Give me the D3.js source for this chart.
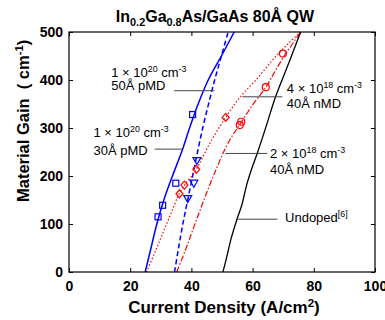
<!DOCTYPE html>
<html>
<head>
<meta charset="utf-8">
<script src="https://cdn.jsdelivr.net/npm/d3@7"></script>
<style>
  body { margin: 0; background: #fff; }
  text { font-family: "Liberation Sans", Arial, Helvetica, sans-serif; }
</style>
</head>
<body>
<svg id="chart" width="385" height="320"></svg>
<script>
// Data (current density J in A/cm2, gain G in cm-1).
const xTicks = [0, 20, 40, 60, 80, 100];
const yTicks = [0, 100, 200, 300, 400, 500];

// 1e20 30A pMD (solid blue)
const pmd30J = [24.9, 26.8, 28.7, 31.0, 33.8, 36.8, 39.4, 42.2, 45.5, 49.8, 54.0];
const pmd30G = [0, 50, 100, 150, 200, 250, 300, 350, 400, 450, 500];
// 1e20 50A pMD (dashed blue)
const pmd50J = [34.5, 35.8, 37.2, 38.8, 40.4, 42.0, 43.7, 45.6, 47.6, 49.8, 52.0];
const pmd50G = [0, 50, 100, 150, 200, 250, 300, 350, 400, 450, 500];
// 4e18 40A nMD (dotted red)
const nmd4J = [25.3, 28.0, 30.6, 33.2, 36.1, 38.0, 41.6, 46.0, 51.2, 56.0, 61.5, 67.0, 71.5, 75.7];
const nmd4G = [0, 40, 80, 120, 164, 183, 214, 268, 322, 365, 403, 445, 475, 500];
// 2e18 40A nMD (dash-dot red)
const nmd2J = [35.2, 38.0, 40.8, 43.5, 46.2, 48.5, 50.6, 53.0, 55.8, 60.0, 64.3, 67.5, 70.5, 73.0, 75.7];
const nmd2G = [0, 45, 94, 140, 185, 220, 251, 280, 307, 348, 385, 420, 452, 475, 500];
// undoped (black)
const undJ = [50.3, 51.5, 53.0, 55.0, 56.5, 58.0, 59.7, 61.5, 64.5, 67.5, 71.5, 75.7];
const undG = [0, 30, 70, 112, 140, 180, 215, 247, 305, 365, 430, 500];

// measured points
const squareJ = [29.1, 30.6, 34.9, 40.4];
const squareG = [115, 139, 185, 328];
const triJ = [38.8, 40.8, 41.8];
const triG = [152, 184, 231];
const diamondJ = [36.1, 37.7, 41.6, 51.2];
const diamondG = [163, 181, 214, 322];
const circleJ = [55.8, 56.3, 64.3, 69.9];
const circleG = [306, 313, 385, 455];

const svg = d3.select('#chart');
const x = d3.scaleLinear().domain([0, 100]).range([69, 375]);
const y = d3.scaleLinear().domain([0, 500]).range([272, 32]);

const zip = (a, b) => a.map((v, i) => [v, b[i]]);
const line = d3.line().x(d => x(d[0])).y(d => y(d[1])).curve(d3.curveCatmullRom);

svg.append('clipPath').attr('id', 'clip')
  .append('rect').attr('x', 69).attr('y', 32).attr('width', 306).attr('height', 240);

const plot = svg.append('g').attr('clip-path', 'url(#clip)');

const curves = [
  { pts: zip(pmd30J, pmd30G), color: '#0000ff', w: 1.5, dash: null },
  { pts: zip(pmd50J, pmd50G), color: '#0000ff', w: 1.5, dash: '5,3' },
  { pts: zip(nmd4J, nmd4G), color: '#ff0000', w: 1.2, dash: '1.5,2' },
  { pts: zip(nmd2J, nmd2G), color: '#ff0000', w: 1.2, dash: '6,2,1.5,2' },
  { pts: zip(undJ, undG), color: '#000', w: 1.3, dash: null },
];
plot.selectAll('path.curve').data(curves).join('path')
  .attr('class', 'curve')
  .attr('d', d => line(d.pts))
  .attr('fill', 'none')
  .attr('stroke', d => d.color)
  .attr('stroke-width', d => d.w)
  .attr('stroke-dasharray', d => d.dash);

// markers
plot.selectAll('rect.sq').data(zip(squareJ, squareG)).join('rect')
  .attr('x', d => x(d[0]) - 3).attr('y', d => y(d[1]) - 3)
  .attr('width', 6).attr('height', 6)
  .attr('fill', 'none').attr('stroke', '#0000ff').attr('stroke-width', 1.2);

plot.selectAll('path.tri').data(zip(triJ, triG)).join('path')
  .attr('d', d => `M${x(d[0]) - 4},${y(d[1]) - 3.5}L${x(d[0]) + 4},${y(d[1]) - 3.5}L${x(d[0])},${y(d[1]) + 3.5}Z`)
  .attr('fill', 'none').attr('stroke', '#0000ff').attr('stroke-width', 1.2);

plot.selectAll('path.dia').data(zip(diamondJ, diamondG)).join('path')
  .attr('d', d => `M${x(d[0])},${y(d[1]) - 4}L${x(d[0]) + 3.5},${y(d[1])}L${x(d[0])},${y(d[1]) + 4}L${x(d[0]) - 3.5},${y(d[1])}Z`)
  .attr('fill', 'none').attr('stroke', '#ff0000').attr('stroke-width', 1.2);

plot.selectAll('circle.c').data(zip(circleJ, circleG)).join('circle')
  .attr('cx', d => x(d[0])).attr('cy', d => y(d[1])).attr('r', 3.5)
  .attr('fill', 'none').attr('stroke', '#ff0000').attr('stroke-width', 1.2);

// frame and inward ticks
svg.append('rect').attr('x', 69).attr('y', 32).attr('width', 306).attr('height', 240)
  .attr('fill', 'none').attr('stroke', '#000').attr('stroke-width', 1.2);

const axB = svg.append('g').attr('transform', 'translate(0,272)')
  .call(d3.axisBottom(x).tickValues(xTicks).tickSize(-4).tickPadding(9));
const axT = svg.append('g').attr('transform', 'translate(0,32)')
  .call(d3.axisTop(x).tickValues(xTicks).tickSize(-4).tickFormat(''));
const axL = svg.append('g').attr('transform', 'translate(69,0)')
  .call(d3.axisLeft(y).tickValues(yTicks).tickSize(-4).tickPadding(6));
const axR = svg.append('g').attr('transform', 'translate(375,0)')
  .call(d3.axisRight(y).tickValues(yTicks).tickSize(-4).tickFormat(''));
[axB, axT, axL, axR].forEach(a => {
  a.select('.domain').remove();
  a.selectAll('line').attr('stroke', '#000');
  a.selectAll('text').attr('font-size', 14).attr('font-weight', 'bold')
    .attr('fill', '#000').attr('font-family', '"Liberation Sans", Arial, sans-serif');
});

// rich text helper: parts are [text, 'sup'|'sub'|null]
function rich(g, px, py, parts, size, weight, anchor) {
  const t = g.append('text').attr('x', px).attr('y', py)
    .attr('font-size', size).attr('font-weight', weight || 'normal')
    .attr('text-anchor', anchor || 'start').attr('fill', '#000');
  let shift = 0;
  parts.forEach(([s, kind]) => {
    const target = kind === 'sup' ? -0.38 * size : kind === 'sub' ? 0.25 * size : 0;
    t.append('tspan').attr('dy', target - shift)
      .attr('font-size', kind ? size * 0.68 : size)
      .text(s);
    shift = target;
  });
  return t;
}

// title
rich(svg, 215, 22, [['In'], ['0.2', 'sub'], ['Ga'], ['0.8', 'sub'], ['As/GaAs 80Å QW']], 16, 'bold', 'middle');

// axis titles
rich(svg, 224, 313, [['Current Density (A/cm'], ['2', 'sup'], [')']], 17, 'bold', 'middle');
rich(svg.append('g').attr('transform', 'translate(29,202) rotate(-90)'), 0, 0,
  [['Material Gain\u00a0 (\u00a0cm'], ['-1', 'sup'], [')']], 16.5, 'bold', 'start');

// annotations (positions in data units)
const notes = [
  { lines: [[['1 × 10'], ['20', 'sup'], [' cm'], ['-3', 'sup']], [['50Å pMD']]], at: [13.8, 407], dy: 13.5,
    lead: [[34.4, 47.5], 377.7] },
  { lines: [[['1 × 10'], ['20', 'sup'], [' cm'], ['-3', 'sup']], [['30Å pMD']]], at: [8.0, 281], dy: 18.3,
    lead: [[28.0, 36.9], 256] },
  { lines: [[['4 × 10'], ['18', 'sup'], [' cm'], ['-3', 'sup']], [['40Å nMD']]], at: [71.2, 373], dy: 15.5,
    lead: [[56.6, 69.7], 365] },
  { lines: [[['2 × 10'], ['18', 'sup'], [' cm'], ['-3', 'sup']], [['40Å nMD']]], at: [65.7, 238], dy: 16,
    lead: [[51.1, 64.8], 247] },
  { lines: [[['Undoped'], ['[6]', 'sup']]], at: [70.6, 104], dy: 0,
    lead: [[55.0, 68.1], 110] },
];
const ann = svg.append('g');
notes.forEach(n => {
  n.lines.forEach((parts, i) => rich(ann, x(n.at[0]), y(n.at[1]) + i * n.dy, parts, 13));
  ann.append('line')
    .attr('x1', x(n.lead[0][0])).attr('x2', x(n.lead[0][1]))
    .attr('y1', y(n.lead[1])).attr('y2', y(n.lead[1]))
    .attr('stroke', '#444').attr('stroke-width', 1);
});
</script>
</body>
</html>
